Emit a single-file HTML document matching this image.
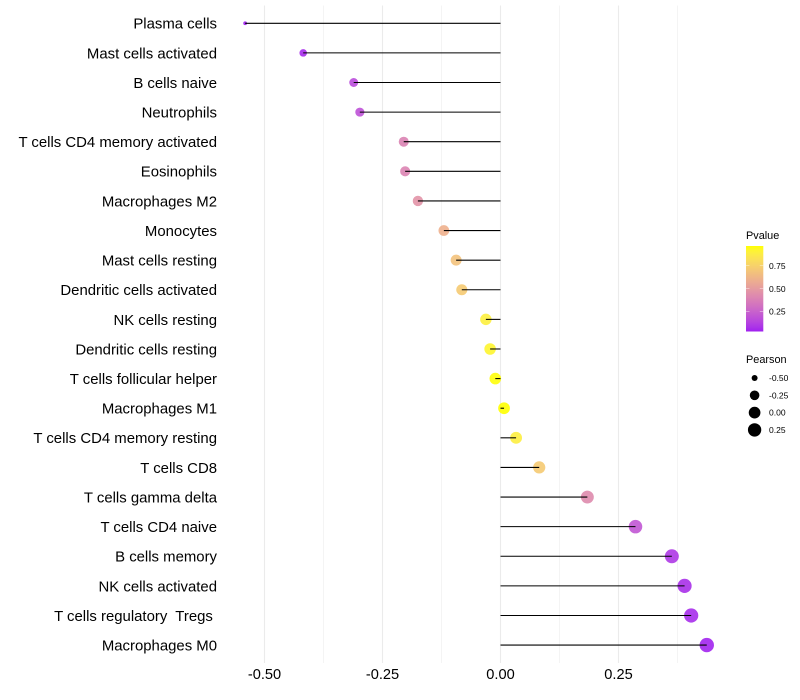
<!DOCTYPE html>
<html>
<head>
<meta charset="utf-8">
<title>Pearson lollipop chart</title>
<style>
html,body{margin:0;padding:0;background:#fff;width:800px;height:700px;overflow:hidden}
svg{display:block}
text{font-family:"Liberation Sans",Arial,sans-serif;fill:#000}
</style>
</head>
<body>
<svg id="chart" width="800" height="700" viewBox="0 0 800 700" xmlns="http://www.w3.org/2000/svg">
<defs>
<linearGradient id="pvalue-gradient" x1="0" y1="1" x2="0" y2="0"></linearGradient>
</defs>
<g id="grid"></g>
<g id="points"></g>
<g id="stems"></g>
<g id="y-axis"></g>
<g id="x-axis"></g>
<g id="color-legend">
<text x="746" y="239" font-size="10.9">Pvalue</text>
<rect x="746" y="246" width="17.3" height="85.5" fill="url(#pvalue-gradient)"></rect>
</g>
<g id="size-legend">
<text x="746" y="363" font-size="10.9">Pearson</text>
</g>
</svg>
<script>
const categories = ["Plasma cells","Mast cells activated","B cells naive","Neutrophils","T cells CD4 memory activated","Eosinophils","Macrophages M2","Monocytes","Mast cells resting","Dendritic cells activated","NK cells resting","Dendritic cells resting","T cells follicular helper","Macrophages M1","T cells CD4 memory resting","T cells CD8","T cells gamma delta","T cells CD4 naive","B cells memory","NK cells activated","T cells regulatory  Tregs ","Macrophages M0"];
const pearson = [-0.541,-0.418,-0.311,-0.298,-0.205,-0.202,-0.175,-0.120,-0.094,-0.082,-0.031,-0.022,-0.011,0.0075,0.033,0.082,0.184,0.286,0.363,0.390,0.404,0.437];
const pvalues = [0.035,0.060,0.165,0.185,0.395,0.400,0.465,0.600,0.680,0.720,0.890,0.920,0.960,0.965,0.885,0.720,0.430,0.205,0.100,0.075,0.065,0.045];
const xMajorTicks = [-0.50,-0.25,0.00,0.25];
const xMinorTicks = [-0.375,-0.125,0.125,0.375];
const pvalueLegendTicks = [0.25,0.50,0.75];
const pearsonLegendTicks = [-0.50,-0.25,0.00,0.25];

const NS = "http://www.w3.org/2000/svg";
const make = (tag, parent) => parent.appendChild(document.createElementNS(NS, tag));
const setAll = (el, o) => { for (const k in o) el.setAttribute(k, o[k]); return el; };
const slug = s => s.trim().toLowerCase().replace(/[^a-z0-9]+/g, "-");

// axis functions
const xScale = v => 500.5 + v * 472;
const yScale = i => 23.28 + i * 29.61;
const PANEL_TOP = 5.5, PANEL_BOTTOM = 663;

// size scale (area-proportional radius between data min and max)
const sizeMin = Math.min(...pearson), sizeMax = Math.max(...pearson);
const rScale = v => {
  const t = Math.max(0, (v - sizeMin) / (sizeMax - sizeMin));
  return 1.9 + (7.2 - 1.9) * Math.sqrt(t);
};

// colour scale: Lab interpolation purple -> yellow
function rgb2lab(c) {
  const f = x => { x /= 255; return x > 0.04045 ? Math.pow((x + 0.055) / 1.055, 2.4) : x / 12.92; };
  const [r, g, b] = c.map(f);
  const X = (0.4124 * r + 0.3576 * g + 0.1805 * b) / 0.95047;
  const Y = 0.2126 * r + 0.7152 * g + 0.0722 * b;
  const Z = (0.0193 * r + 0.1192 * g + 0.9505 * b) / 1.08883;
  const h = t => t > 0.008856 ? Math.cbrt(t) : 7.787 * t + 16 / 116;
  return [116 * h(Y) - 16, 500 * (h(X) - h(Y)), 200 * (h(Y) - h(Z))];
}
function lab2rgb(l) {
  const fy = (l[0] + 16) / 116, fx = l[1] / 500 + fy, fz = fy - l[2] / 200;
  const h = t => t * t * t > 0.008856 ? t * t * t : (t - 16 / 116) / 7.787;
  const X = h(fx) * 0.95047, Y = h(fy), Z = h(fz) * 1.08883;
  const g = x => { x = x <= 0.0031308 ? 12.92 * x : 1.055 * Math.pow(x, 1 / 2.4) - 0.055; return Math.round(Math.min(1, Math.max(0, x)) * 255); };
  return "rgb(" + g(3.2406 * X - 1.5372 * Y - 0.4986 * Z) + "," + g(-0.9689 * X + 1.8758 * Y + 0.0415 * Z) + "," + g(0.0557 * X - 0.204 * Y + 1.057 * Z) + ")";
}
const labLow = rgb2lab([160, 32, 240]), labHigh = rgb2lab([255, 255, 0]);
const pMin = Math.min(...pvalues), pMax = Math.max(...pvalues);
const colorAt = t => lab2rgb(labLow.map((a, i) => a + (labHigh[i] - a) * t));
const colorScale = p => colorAt(Math.min(1, Math.max(0, (p - pMin) / (pMax - pMin))));

// grid
const gridG = document.getElementById("grid");
xMinorTicks.forEach(v => {
  const l = make("line", gridG);
  
  
  setAll(l, {x1: xScale(v), x2: xScale(v), y1: PANEL_TOP, y2: PANEL_BOTTOM, stroke: "#ebebeb", "stroke-width": 0.55});
});
xMajorTicks.forEach(v => {
  const l = make("line", gridG);
  
  
  setAll(l, {x1: xScale(v), x2: xScale(v), y1: PANEL_TOP, y2: PANEL_BOTTOM, stroke: "#ebebeb", "stroke-width": 1.07});
});

// marks
const pointsG = document.getElementById("points");
const stemsG = document.getElementById("stems");
const yAxisG = document.getElementById("y-axis");
categories.forEach((name, i) => {
  const y = yScale(i), x = xScale(pearson[i]);
  const c = make("circle", pointsG);
  
  
  setAll(c, {cx: x, cy: y, r: rScale(pearson[i]), fill: colorScale(pvalues[i]), "fill-opacity": 0.9});
  const s = make("line", stemsG);
  
  
  setAll(s, {x1: xScale(0), x2: x, y1: y, y2: y, stroke: "#000", "stroke-width": 1.07});
  const t = make("text", yAxisG);
  
  
  setAll(t, {x: 217, y: y + 5.4, "text-anchor": "end", "font-size": 14.92});
  t.setAttributeNS("http://www.w3.org/XML/1998/namespace", "xml:space", "preserve");
  t.style.whiteSpace = "pre";
  t.textContent = name;
});

// x tick labels
const xAxisG = document.getElementById("x-axis");
xMajorTicks.forEach(v => {
  const t = make("text", xAxisG);
  
  
  setAll(t, {x: xScale(v), y: 679, "text-anchor": "middle", "font-size": 14.6});
  t.textContent = v.toFixed(2);
});

// colour legend
const grad = document.getElementById("pvalue-gradient");
for (let k = 0; k <= 20; k++) {
  const st = make("stop", grad);
  setAll(st, {offset: (k / 20), "stop-color": colorAt(k / 20)});
}
const barTop = 246, barH = 85.5;
const legendPY = p => barTop + barH - (p - pMin) / (pMax - pMin) * barH;
const colorLegend = document.getElementById("color-legend");
pvalueLegendTicks.forEach(p => {
  const y = legendPY(p);
  [[746, 749.5], [759.8, 763.3]].forEach(seg => {
    const l = make("line", colorLegend);
    
    
    setAll(l, {x1: seg[0], x2: seg[1], y1: y, y2: y, stroke: "#fff", "stroke-width": 0.4});
  });
  const t = make("text", colorLegend);
  
  
  setAll(t, {x: 769, y: y + 3, "font-size": 8.5});
  t.textContent = p.toFixed(2);
});

// size legend
const sizeLegend = document.getElementById("size-legend");
pearsonLegendTicks.forEach((v, i) => {
  const y = 378 + i * 17.3;
  const c = make("circle", sizeLegend);
  
  
  setAll(c, {cx: 754.6, cy: y, r: rScale(v), fill: "#000"});
  const t = make("text", sizeLegend);
  
  
  setAll(t, {x: 769, y: y + 3, "font-size": 8.5});
  t.textContent = v.toFixed(2);
});
</script>
</body>
</html>
